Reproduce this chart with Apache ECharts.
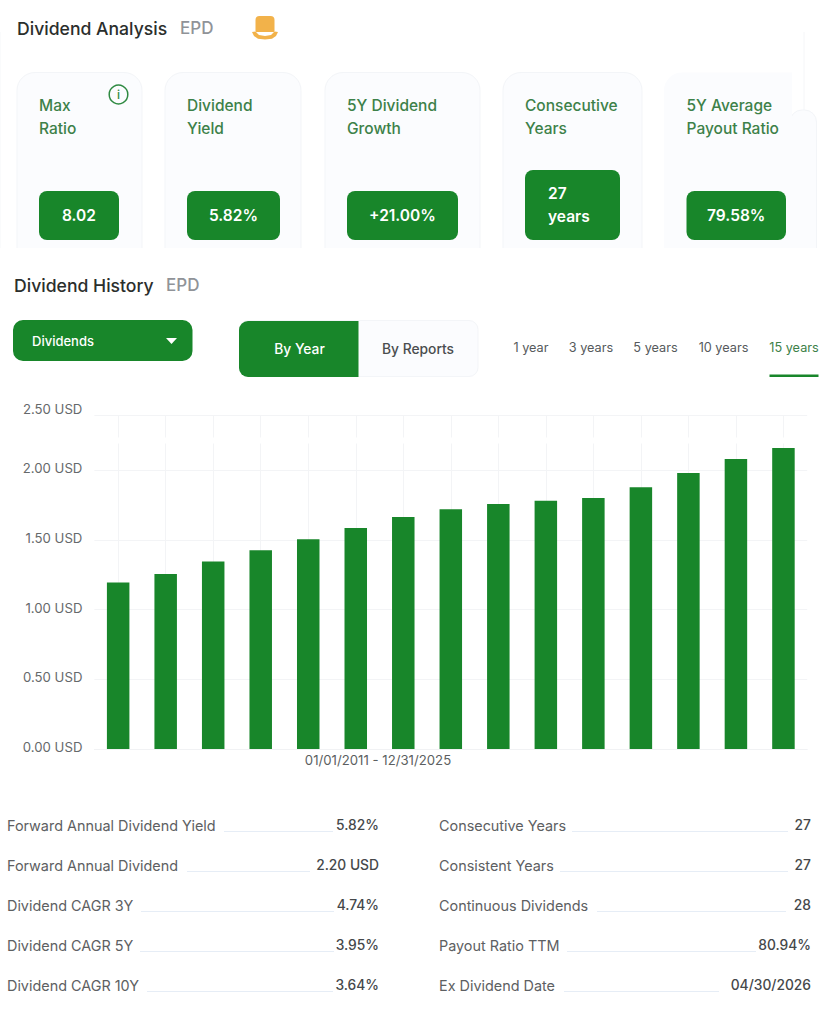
<!DOCTYPE html>
<html><head><meta charset="utf-8">
<style>html,body{margin:0;padding:0;background:#fff}#c{width:835px;height:1024px}</style>
<script src="https://cdn.jsdelivr.net/npm/echarts@6/dist/echarts.min.js"></script>
</head><body><div id="c"></div>
<script>
// ---- data ----
const years = ['2011','2012','2013','2014','2015','2016','2017','2018','2019','2020','2021','2022','2023','2024','2025'];
const dividends = [1.195,1.255,1.345,1.425,1.505,1.585,1.665,1.72,1.757,1.78,1.80,1.877,1.98,2.08,2.16];
const tickLabels = ['0.00 USD','0.50 USD','1.00 USD','1.50 USD','2.00 USD','2.50 USD'];
const cardTitles = [['Max','Ratio'],['Dividend','Yield'],['5Y Dividend','Growth'],['Consecutive','Years'],['5Y Average','Payout Ratio']];
const cardValues = [['8.02'],['5.82%'],['+21.00%'],['27','years'],['79.58%']];
const periods = ['1 year','3 years','5 years','10 years','15 years'];
const leftLabels = ['Forward Annual Dividend Yield','Forward Annual Dividend','Dividend CAGR 3Y','Dividend CAGR 5Y','Dividend CAGR 10Y'];
const leftValues = ['5.82%','2.20 USD','4.74%','3.95%','3.64%'];
const rightLabels = ['Consecutive Years','Consistent Years','Continuous Dividends','Payout Ratio TTM','Ex Dividend Date'];
const rightValues = ['27','27','28','80.94%','04/30/2026'];
const dateRange = '01/01/2011 - 12/31/2025';

// ---- layout & style ----
const GREEN='#18862a', FONT='Inter, sans-serif', CARD='#fbfcfe', EDGE='#f3f5f8';
const AXIS_TOP=2.396; // value at the top rule of the picture, which carries the 2.50 label
const cardBoxes=[[17,142,39,119],[165,301,187,280],[325,480,347,458],[503,642,525,620],[664,792,686.5,786]];
const periodX=[531,591,655.5,723.5,794];
const leftRules=[[224,333],[187,310],[141,334],[140,334],[147,333]];
const rightRules=[[572,788],[560,788],[597,786],[567,756],[564,719]];

const g=[];
const rect=(x,y,w,h,fill,r,stroke,z)=>g.push({type:'rect',z:z||1,silent:true,shape:{x,y,width:w,height:h,r:r||0},style:{fill,stroke:stroke||null,lineWidth:stroke?1:0}});
const text=(t,x,y,size,fill,weight,align)=>g.push({type:'text',z:5,silent:true,x,y,style:{text:t,fontSize:size,fill,fontWeight:weight||400,fontFamily:FONT,align:align||'left',verticalAlign:'middle'}});

// headings
text('Dividend Analysis',17,28,17.6,'#2b2e2c',500);
text('EPD',180,28,17,'#909398',500);
text('Dividend History',14,285,17.6,'#2b2e2c',500);
text('EPD',166,285,17,'#909398',500);

// top hat
rect(255.5,16,19,16,'#f2b24a',[4,4,1,1],null,5);
g.push({type:'polygon',z:5,silent:true,shape:{points:[[252,32],[254,36],[258,38.8],[265,39.6],[272,38.8],[276,36],[278,32],[274.5,31.5],[271,35],[265,36],[259,35],[255.5,31.5]]},style:{fill:'#f2b24a'}});

// faint frame lines
g.push({type:'line',z:0,silent:true,shape:{x1:804,y1:32,x2:804,y2:110},style:{stroke:'#f5f6f8',lineWidth:1}});
g.push({type:'line',z:0,silent:true,shape:{x1:0.5,y1:32,x2:0.5,y2:248},style:{stroke:'#fafbfc',lineWidth:1}});

// cards
rect(790,110,26.5,160,CARD,[12,12,0,0],EDGE,1);
cardBoxes.forEach((b,i)=>{
  rect(b[0],72.5,b[1]-b[0],200,CARD,[18,i==4?0:18,0,0],i==4?null:EDGE,2);
  text(cardTitles[i][0],b[2],105.5,15.5,'#3d8149',500);
  text(cardTitles[i][1],b[2],128,15.5,'#3d8149',500);
  const two=cardValues[i].length>1, top=two?170:191;
  rect(b[2],top,b[3]-b[2],240-top,GREEN,8,null,3);
  if(two){
    text(cardValues[i][0],b[2]+23,193.5,15.5,'#fff',600);
    text(cardValues[i][1],b[2]+23,216,15.5,'#fff',600);
  } else text(cardValues[i][0],(b[2]+b[3])/2,215.5,15.5,'#fff',600,'center');
});
rect(0,248,835,26,'#fff',0,null,4);
// info icon
g.push({type:'circle',z:5,silent:true,shape:{cx:118.5,cy:94.5,r:9.3},style:{fill:'none',stroke:'#2f8a42',lineWidth:1.5}});
text('i',118.5,94.5,12,'#2f8a42',500,'center');

// controls
rect(13,320,179.5,41,GREEN,10);
text('Dividends',32,341,13,'#fff',500);
g.push({type:'polygon',z:5,silent:true,shape:{points:[[166,338],[177,338],[171.5,344]]},style:{fill:'#fff'}});
rect(239.5,320.5,238.5,56,CARD,9,EDGE);
rect(239,321,119.5,56,GREEN,[9,0,0,9],null,2);
text('By Year',299.5,349,13.8,'#fff',500,'center');
text('By Reports',418,349,13.8,'#4a4d4f',500,'center');
periods.forEach((p,i)=>text(p,periodX[i],347.5,12.7,i==4?'#3d8149':'#565a5c',400,'center'));
rect(769.5,374.5,49,2.5,GREEN,0,null,3);

// gap that breaks the vertical rules
rect(97,437.5,712,6,'#fff',0,null,1);
text(dateRange,378,760,13.2,'#5c5f61',400,'center');

// statistics
const rows=(labels,values,rules,lx,rx)=>labels.forEach((l,i)=>{
  const y=825+i*40;
  text(l,lx,y,14.4,'#5d6062',400);
  text(values[i],rx,y,13.8,'#45484a',500,'right');
  rect(rules[i][0],y+6,rules[i][1]-rules[i][0],1,'#e6edf6',0,null,2);
});
rows(leftLabels,leftValues,leftRules,7,379);
rows(rightLabels,rightValues,rightRules,439,811);

const chart=echarts.init(document.getElementById('c'),null,{renderer:'svg',width:835,height:1024});
chart.setOption({
  animation:false,
  backgroundColor:'#fff',
  grid:{left:94.4,right:27.8,top:415,bottom:275},
  xAxis:{type:'category',data:years,
    axisLabel:{show:false},axisTick:{show:false},
    axisLine:{lineStyle:{color:'#f1f2f4'}},
    splitLine:{show:true,alignWithLabel:true,lineStyle:{color:'#f3f4f6',width:1}}},
  yAxis:{type:'value',min:0,max:AXIS_TOP,interval:0.5,
    axisLine:{show:false},axisTick:{show:false},
    axisLabel:{margin:12,
      formatter:(v,i)=>(i==5?'{t|':'{a|')+tickLabels[i]+'}',
      rich:{
        a:{color:'#66696b',fontFamily:FONT,fontSize:13.2,padding:[0,0,4,0]},
        t:{color:'#66696b',fontFamily:FONT,fontSize:13.2,padding:[0,0,12,0]}
      }},
    splitLine:{lineStyle:{color:'#f3f4f6',width:1}}},
  series:[{type:'bar',data:dividends,barWidth:22.5,itemStyle:{color:GREEN}}],
  graphic:g
});
</script></body></html>
